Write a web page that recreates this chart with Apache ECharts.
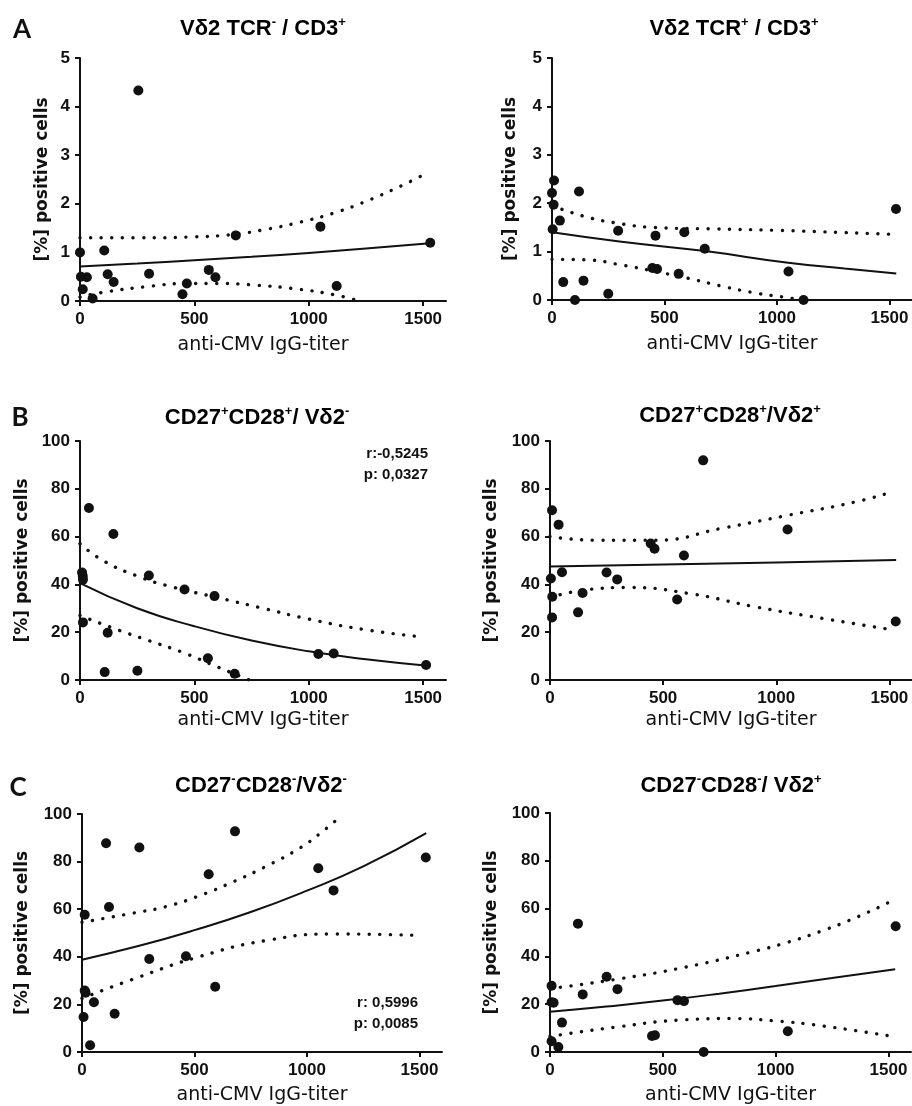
<!DOCTYPE html>
<html><head><meta charset="utf-8">
<script src="https://cdn.jsdelivr.net/npm/echarts@6/dist/echarts.min.js"></script>
<style>html,body{margin:0;padding:0;background:#fff}#c{width:912px;height:1106px}</style>
</head><body><div id="c"></div>
<script>
// ---------- shared axis labels ----------
const titerTicks = [0, 500, 1000, 1500];
const xAxisName = 'anti-CMV IgG-titer';
const yAxisName = '[%] positive cells';

// ---------- Panel A left: Vδ2 TCR- / CD3+ ----------
const aL_x = [0, 106, 255, 681, 1051, 1531, 4, 30, 121, 147, 302, 563, 592, 467, 448, 1122, 12, 55];
const aL_y = [1.0, 1.04, 4.33, 1.35, 1.53, 1.2, 0.5, 0.49, 0.55, 0.39, 0.56, 0.64, 0.49, 0.36, 0.14, 0.31, 0.24, 0.05];
const aL_fitX = [0, 250, 500, 750, 1000, 1250, 1530];
const aL_fitY = [0.71, 0.77, 0.84, 0.91, 0.99, 1.08, 1.19];
const aL_upX = [0, 250, 500, 670, 820, 960, 1110, 1255, 1400, 1503];
const aL_upY = [1.30, 1.30, 1.32, 1.37, 1.48, 1.62, 1.81, 2.06, 2.36, 2.6];
const aL_loX = [0, 90, 300, 470, 600, 760, 960, 1120, 1220];
const aL_loY = [0.08, 0.17, 0.30, 0.36, 0.36, 0.33, 0.24, 0.12, 0.0];

// ---------- Panel A right: Vδ2 TCR+ / CD3+ ----------
const aR_x = [9, 0, 7, 120, 35, 3, 294, 460, 588, 679, 1529, 446, 467, 563, 1051, 1118, 50, 140, 102, 250];
const aR_y = [2.47, 2.21, 1.97, 2.24, 1.64, 1.46, 1.43, 1.33, 1.40, 1.06, 1.88, 0.66, 0.64, 0.54, 0.59, 0.0, 0.37, 0.40, 0.0, 0.13];
const aR_fitX = [0, 300, 680, 1050, 1300, 1530];
const aR_fitY = [1.40, 1.21, 1.01, 0.77, 0.65, 0.55];
const aR_upX = [0, 150, 300, 450, 700, 1000, 1500];
const aR_upY = [1.95, 1.72, 1.58, 1.50, 1.47, 1.44, 1.36];
const aR_loX = [0, 150, 312, 458, 604, 751, 897, 1043, 1110];
const aR_loY = [0.84, 0.83, 0.72, 0.59, 0.45, 0.29, 0.15, 0.05, 0.0];

// ---------- Panel B left: CD27+CD28+/ Vδ2- ----------
const bL_x = [39, 146, 9, 12, 13, 301, 457, 588, 13, 121, 108, 251, 559, 676, 1042, 1109, 1513];
const bL_y = [72, 61.1, 45, 43.5, 42, 43.7, 37.9, 35.1, 24.1, 19.8, 3.3, 3.9, 9.1, 2.6, 10.9, 11.1, 6.3];
const bL_fitX = [0, 250, 500, 750, 1000, 1250, 1520];
const bL_fitY = [40.5, 30, 22.5, 16.5, 12.0, 8.7, 6.0];
const bL_upX = [0, 100, 250, 400, 600, 800, 1000, 1250, 1500];
const bL_upY = [57, 50, 43.5, 39, 34.5, 30, 25.5, 21, 18];
const bL_loX = [0, 150, 300, 450, 600, 740];
const bL_loY = [27, 21.5, 16.5, 11.5, 5.5, 0];

// ---------- Panel B right: CD27+CD28+/Vδ2+ ----------
const bR_x = [677, 9, 38, 1050, 445, 462, 592, 53, 250, 297, 4, 10, 144, 562, 124, 9, 1528];
const bR_y = [91.9, 71, 65, 63, 57.1, 54.9, 52.1, 45.1, 45, 42.1, 42.5, 34.8, 36.4, 33.7, 28.3, 26.2, 24.5];
const bR_fitX = [0, 500, 1000, 1530];
const bR_fitY = [47.5, 48.3, 49.2, 50.2];
const bR_upX = [0, 200, 467, 761, 1056, 1350, 1512];
const bR_upY = [60, 58.5, 58.5, 63.5, 69, 74.5, 78.7];
const bR_loX = [0, 172, 349, 614, 908, 1203, 1519];
const bR_loY = [34.5, 37.9, 38.7, 36.2, 30.6, 25.8, 20.9];

// ---------- Panel C left: CD27-CD28-/Vδ2- ----------
const cL_x = [680, 107, 255, 563, 1050, 1118, 1528, 120, 12, 299, 462, 592, 12, 16, 53, 145, 7, 36];
const cL_y = [92.7, 87.7, 85.9, 74.7, 77.2, 67.9, 81.7, 60.9, 57.7, 39.1, 40.2, 27.4, 25.8, 24.9, 20.9, 16.1, 14.7, 2.8];
const cL_fitX = [0, 250, 500, 750, 1000, 1250, 1530];
const cL_fitY = [38.8, 44.5, 51.2, 58.8, 67.8, 78, 92];
const cL_upX = [0, 230, 378, 526, 674, 822, 970, 1059, 1148];
const cL_upY = [54.5, 58.4, 61.2, 65.8, 71.6, 78.2, 85.8, 91.9, 98.9];
const cL_loX = [0, 230, 526, 822, 1118, 1503];
const cL_loY = [22.5, 30.7, 40.2, 46.9, 49.6, 49.0];

// ---------- Panel C right: CD27-CD28-/ Vδ2+ ----------
const cR_x = [124, 1532, 251, 7, 299, 145, 7, 16, 565, 594, 53, 452, 465, 1054, 7, 37, 681];
const cR_y = [53.7, 52.6, 31.5, 27.7, 26.3, 24.1, 20.8, 20.6, 21.7, 21.3, 12.3, 6.7, 7.0, 8.7, 4.5, 2.1, 0];
const cR_fitX = [0, 250, 500, 750, 1000, 1250, 1530];
const cR_fitY = [16.8, 19, 21.5, 24.4, 27.6, 31, 34.6];
const cR_upX = [0, 300, 600, 900, 1050, 1200, 1350, 1500];
const cR_upY = [26.5, 30.5, 35.5, 42, 45.8, 50.5, 56, 62.5];
const cR_loX = [0, 300, 600, 800, 1000, 1200, 1500];
const cR_loY = [6.5, 10.5, 13.5, 14, 13, 11, 6.8];

// ---------- titles / annotations ----------
const titles = [
  '{n|Vδ2 TCR}{s|-}{n| / CD3}{s|+}',
  '{n|Vδ2 TCR}{s|+}{n| / CD3}{s|+}',
  '{n|CD27}{s|+}{n|CD28}{s|+}{n|/ Vδ2}{s|-}',
  '{n|CD27}{s|+}{n|CD28}{s|+}{n|/Vδ2}{s|+}',
  '{n|CD27}{s|-}{n|CD28}{s|-}{n|/Vδ2}{s|-}',
  '{n|CD27}{s|-}{n|CD28}{s|-}{n|/ Vδ2}{s|+}'
];
const panelLetters = ['A', 'B', 'C'];
const statsB = ['r:-0,5245', 'p: 0,0327'];
const statsC = ['r: 0,5996', 'p: 0,0085'];

// ---------- layout (positions only) ----------
const grids = [
  {left: 80, top: 58, width: 366, height: 243},
  {left: 552, top: 58, width: 364, height: 242},
  {left: 80, top: 441, width: 366, height: 239},
  {left: 550, top: 441, width: 363, height: 239},
  {left: 82, top: 814, width: 360, height: 239},
  {left: 550, top: 813, width: 361, height: 239}
];
const yMax = [5, 5, 100, 100, 100, 100];
const yInt = [1, 1, 20, 20, 20, 20];
const yNameGap = [29, 33, 49, 50, 51, 50];
const titlePos = [[263, 29], [734, 29], [257, 418], [730, 416], [261, 786], [731, 786]];
const letterPos = [[22, 30], [20, 418], [18, 788]];

const panels = [
  [aL_x, aL_y, aL_fitX, aL_fitY, aL_upX, aL_upY, aL_loX, aL_loY],
  [aR_x, aR_y, aR_fitX, aR_fitY, aR_upX, aR_upY, aR_loX, aR_loY],
  [bL_x, bL_y, bL_fitX, bL_fitY, bL_upX, bL_upY, bL_loX, bL_loY],
  [bR_x, bR_y, bR_fitX, bR_fitY, bR_upX, bR_upY, bR_loX, bR_loY],
  [cL_x, cL_y, cL_fitX, cL_fitY, cL_upX, cL_upY, cL_loX, cL_loY],
  [cR_x, cR_y, cR_fitX, cR_fitY, cR_upX, cR_upY, cR_loX, cR_loY]
];

const ink = '#111';
const zip = (a, b) => a.map((v, i) => [v, b[i]]);
const plain = v => String(v);

const xAxes = [], yAxes = [], series = [];
panels.forEach((p, i) => {
  xAxes.push({
    gridIndex: i, type: 'value', min: 0, max: 1600, interval: 500,
    axisLine: {show: true, onZero: false, lineStyle: {color: ink, width: 2}},
    axisTick: {show: true, length: 5, customValues: titerTicks, lineStyle: {color: ink, width: 2}},
    axisLabel: {customValues: titerTicks, formatter: plain, margin: 10, color: ink, fontSize: 17, fontWeight: 'bold', fontFamily: 'Liberation Sans'},
    splitLine: {show: false},
    name: xAxisName, nameLocation: 'middle', nameGap: i < 2 ? 35 : (i < 4 ? 31 : 34),
    nameTextStyle: {color: ink, fontSize: 19, fontFamily: 'DejaVu Sans'}
  });
  yAxes.push({
    gridIndex: i, type: 'value', min: 0, max: yMax[i], interval: yInt[i],
    axisLine: {show: true, onZero: false, lineStyle: {color: ink, width: 2}},
    axisTick: {show: true, length: 5, lineStyle: {color: ink, width: 2}},
    axisLabel: {formatter: plain, margin: 10, color: ink, fontSize: 17, fontWeight: 'bold', fontFamily: 'Liberation Sans'},
    splitLine: {show: false},
    name: yAxisName, nameLocation: 'middle', nameGap: yNameGap[i], nameRotate: 90,
    nameTextStyle: {color: ink, fontSize: 17, fontWeight: 'bold', fontFamily: 'DejaVu Sans'}
  });
  const dotted = {color: ink, width: 3.4, type: [0.1, 10.5], cap: 'round'};
  series.push({
    type: 'line', xAxisIndex: i, yAxisIndex: i, data: zip(p[4], p[5]),
    showSymbol: false, smooth: 0.5, lineStyle: dotted, silent: true, z: 3
  });
  series.push({
    type: 'line', xAxisIndex: i, yAxisIndex: i, data: zip(p[6], p[7]),
    showSymbol: false, smooth: 0.5, lineStyle: dotted, silent: true, z: 3
  });
  series.push({
    type: 'line', xAxisIndex: i, yAxisIndex: i, data: zip(p[2], p[3]),
    showSymbol: false, smooth: 0.5, lineStyle: {color: ink, width: 2}, silent: true, z: 4
  });
  series.push({
    type: 'scatter', xAxisIndex: i, yAxisIndex: i, data: zip(p[0], p[1]),
    symbol: 'circle', symbolSize: 10, itemStyle: {color: ink, opacity: 1}, clip: false, z: 5
  });
});

const rich = {
  n: {fontSize: 22, fontWeight: 'bold', fontFamily: 'Liberation Sans', color: ink, lineHeight: 26},
  s: {fontSize: 13, fontWeight: 'bold', fontFamily: 'Liberation Sans', color: ink, lineHeight: 14, verticalAlign: 'top'}
};
const graphics = [];
titles.forEach((t, i) => {
  graphics.push({type: 'text', x: titlePos[i][0], y: titlePos[i][1],
    style: {text: t, rich: rich, align: 'center', verticalAlign: 'middle'}});
});
panelLetters.forEach((l, i) => {
  graphics.push({type: 'text', x: letterPos[i][0], y: letterPos[i][1],
    style: {text: l, fill: ink, font: 'bold 26px Lato', align: 'center', verticalAlign: 'middle'}});
});
[[statsB, 428, 454], [statsC, 418, 1003]].forEach(([lines, x, y]) => {
  lines.forEach((s, k) => {
    graphics.push({type: 'text', x: x, y: y + k * 21,
      style: {text: s, fill: ink, font: 'bold 15px "Liberation Sans"', align: 'right', verticalAlign: 'middle'}});
  });
});

const chart = echarts.init(document.getElementById('c'), null, {renderer: 'canvas'});
chart.setOption({
  backgroundColor: '#fff',
  animation: false,
  grid: grids,
  xAxis: xAxes,
  yAxis: yAxes,
  series: series,
  graphic: graphics
});
</script>
</body></html>
